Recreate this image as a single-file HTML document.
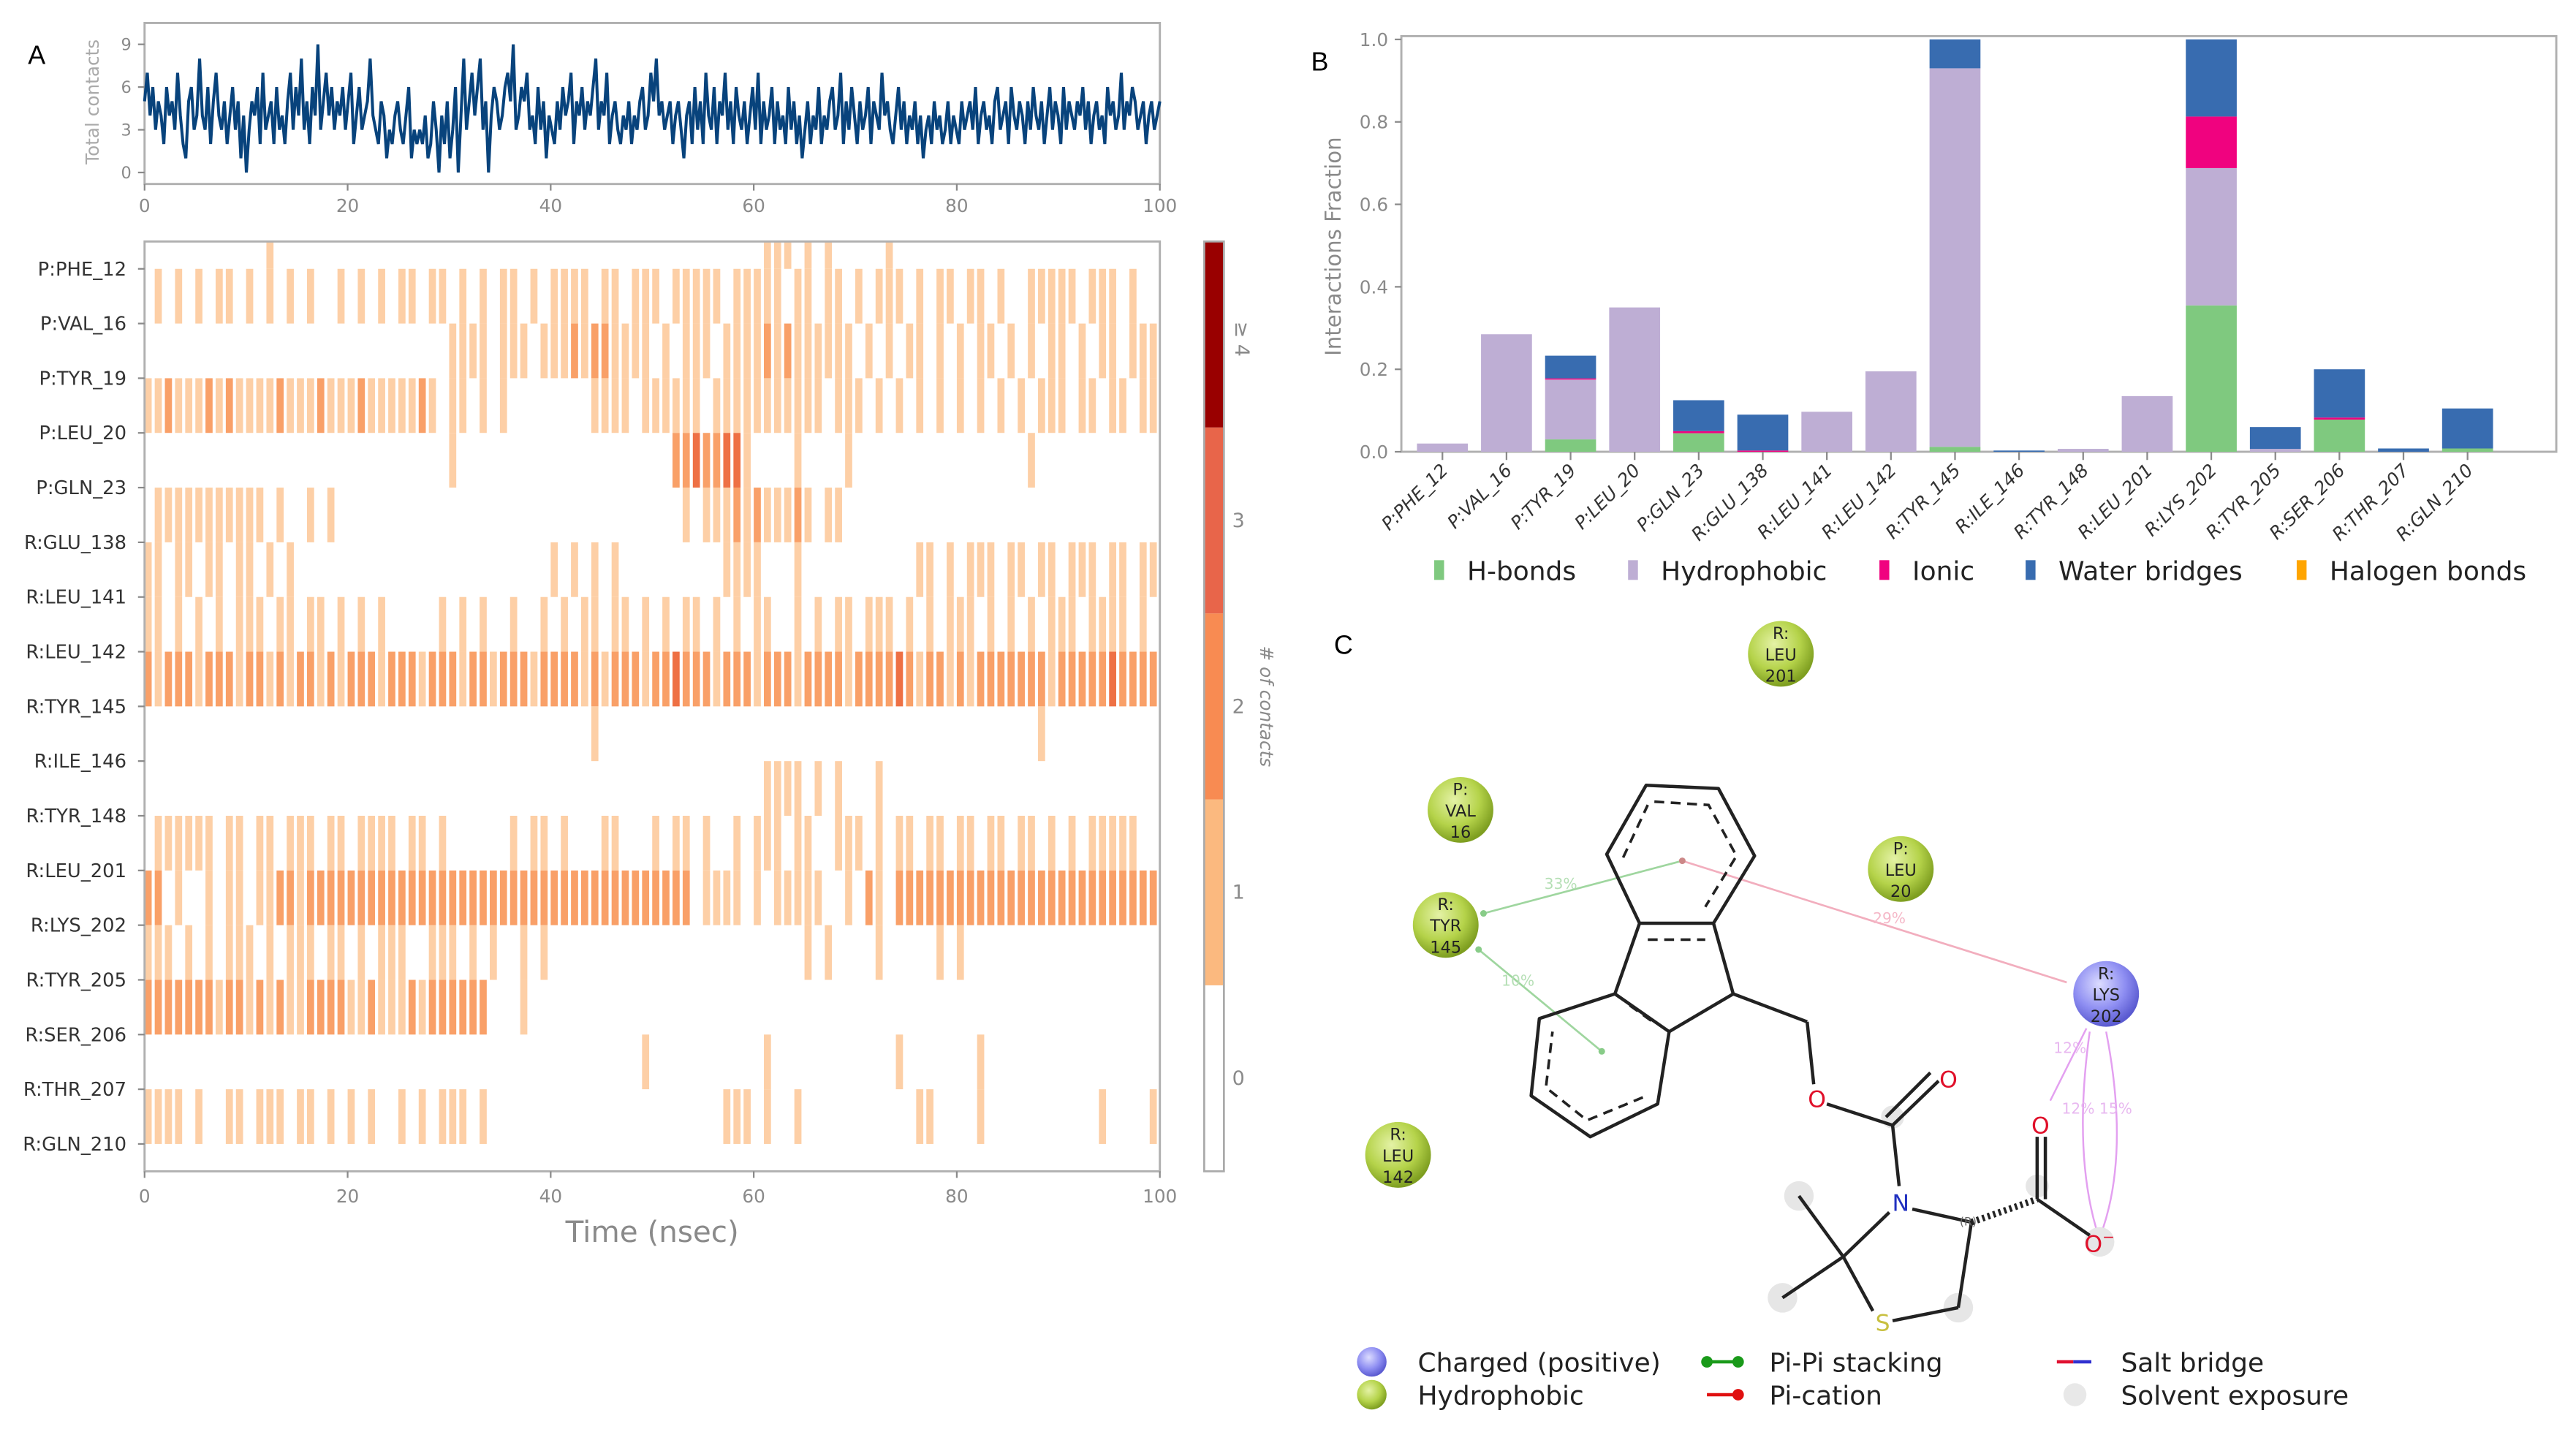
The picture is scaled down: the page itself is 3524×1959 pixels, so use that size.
<!DOCTYPE html>
<html><head><meta charset="utf-8">
<style>
html,body{margin:0;padding:0;background:#fff;}
svg{display:block;font-family:"DejaVu Sans","Liberation Sans",sans-serif;}
</style></head>
<body>
<svg id="fig" xmlns="http://www.w3.org/2000/svg" width="3524" height="1959" viewBox="0 0 1568 871.7" preserveAspectRatio="none">
<rect x="0" y="0" width="1568" height="872" fill="#fff"/>
<text x="17" y="39" font-size="16" font-family="Liberation Sans">A</text>
<text x="798" y="43" font-size="16" font-family="Liberation Sans">B</text>
<text x="812" y="398" font-size="16" font-family="Liberation Sans">C</text>
<g id="gTop"></g>
<g id="gHeat"></g>
<g id="gBar"></g>
<g id="gMol">
  <line x1="903" y1="556" x2="1024" y2="524" stroke="#9fd69f" stroke-width="1.2"/>
  <circle cx="903" cy="556" r="2" fill="#8c8"/>
  <text x="940" y="541" font-size="9" fill="#b5dfb5">33%</text>
  <line x1="900" y1="578" x2="975" y2="640" stroke="#9fd69f" stroke-width="1.2"/>
  <circle cx="900" cy="578" r="2" fill="#8c8"/>
  <circle cx="975" cy="640" r="2" fill="#8c8"/>
  <text x="914" y="600" font-size="9" fill="#b5dfb5">10%</text>
  <line x1="1024" y1="524" x2="1258" y2="598" stroke="#f2aebe" stroke-width="1.2"/>
  <circle cx="1024" cy="524" r="2" fill="#c88"/>
  <text x="1140" y="562" font-size="9" fill="#f5b8c8">29%</text>
  <path d="M1270,626 Q1258,650 1248,670" fill="none" stroke="#e3a0f0" stroke-width="1.1"/>
  <path d="M1272,628 Q1262,700 1276,748" fill="none" stroke="#e3a0f0" stroke-width="1.1"/>
  <path d="M1282,628 Q1296,700 1280,748" fill="none" stroke="#e3a0f0" stroke-width="1.1"/>
  <text x="1250" y="641" font-size="9" fill="#e8b8f0">12%</text>
  <text x="1255" y="678" font-size="9" fill="#e8b8f0">12% 15%</text>
  <g fill="#e6e6e6">
    <circle cx="1095" cy="728" r="9"/><circle cx="1085" cy="790" r="9"/><circle cx="1192" cy="796" r="9"/>
    <circle cx="1240" cy="722" r="7"/><circle cx="1152" cy="680" r="7"/><circle cx="1278" cy="756" r="9"/>
  </g>
  <g stroke="#222" stroke-width="2" fill="none" stroke-linejoin="round">
    <polygon points="1002,478 1046,480 1068,521 1043,562 998,562 978,520"/>
    <polygon points="983,605 1016,628 1009,672 968,692 932,667 937,620"/>
    <line x1="998" y1="562" x2="983" y2="605"/>
    <line x1="1043" y1="562" x2="1055" y2="605"/>
    <line x1="1055" y1="605" x2="1016" y2="628"/>
    <line x1="1055" y1="605" x2="1100" y2="622"/>
    <line x1="1100" y1="622" x2="1104" y2="660"/>
    <line x1="1112" y1="672" x2="1152" y2="685"/>
    <line x1="1152" y1="685" x2="1180" y2="658"/>
    <line x1="1148" y1="680" x2="1175" y2="653"/>
    <line x1="1152" y1="685" x2="1156" y2="722"/>
    <line x1="1164" y1="736" x2="1200" y2="744"/>
    <line x1="1200" y1="744" x2="1192" y2="796"/>
    <line x1="1192" y1="796" x2="1152" y2="804"/>
    <line x1="1140" y1="798" x2="1122" y2="765"/>
    <line x1="1122" y1="765" x2="1150" y2="738"/>
    <line x1="1122" y1="765" x2="1095" y2="728"/>
    <line x1="1122" y1="765" x2="1085" y2="790"/>
    <line x1="1240" y1="730" x2="1240" y2="692"/>
    <line x1="1245" y1="730" x2="1245" y2="692"/>
    <line x1="1240" y1="730" x2="1272" y2="752"/>
  </g>
  <g stroke="#222" stroke-width="1.6" stroke-dasharray="6,4" fill="none">
    <polyline points="1007,488 1040,490 1057,521 1038,552"/>
    <line x1="988" y1="522" x2="1003" y2="490"/>
    <line x1="1003" y1="572" x2="1038" y2="572"/>
    <line x1="992" y1="612" x2="1006" y2="622"/>
    <polyline points="1000,668 966,682 941,662 945,628"/>
  </g>
  <line x1="1200" y1="744" x2="1240" y2="730" stroke="#222" stroke-width="4" stroke-dasharray="1.5,2"/>
  <text x="1106" y="674" font-size="14" fill="#e0102a" text-anchor="middle">O</text>
  <text x="1186" y="662" font-size="14" fill="#e0102a" text-anchor="middle">O</text>
  <text x="1157" y="737" font-size="14" fill="#2030c0" text-anchor="middle">N</text>
  <text x="1146" y="810" font-size="14" fill="#c8c040" text-anchor="middle">S</text>
  <text x="1242" y="690" font-size="14" fill="#e0102a" text-anchor="middle">O</text>
  <text x="1278" y="762" font-size="14" fill="#e0102a" text-anchor="middle">O<tspan font-size="9" dy="-6">−</tspan></text>
  <text x="1198" y="746" font-size="7" fill="#666" text-anchor="middle">(R)</text>
  <defs>
    <radialGradient id="gg" cx="40%" cy="35%" r="65%"><stop offset="0" stop-color="#e4f2a6"/><stop offset="0.6" stop-color="#b5d34a"/><stop offset="1" stop-color="#7e9e20"/></radialGradient>
    <radialGradient id="bg" cx="40%" cy="35%" r="65%"><stop offset="0" stop-color="#dcdcff"/><stop offset="0.6" stop-color="#8e8ef2"/><stop offset="1" stop-color="#5a5ad0"/></radialGradient>
  </defs>
  <g font-size="10" text-anchor="middle" fill="#222">
    <g><circle cx="1084" cy="398" r="20" fill="url(#gg)"/><text x="1084" y="389">R:</text><text x="1084" y="402">LEU</text><text x="1084" y="415">201</text></g>
    <g><circle cx="889" cy="493" r="20" fill="url(#gg)"/><text x="889" y="484">P:</text><text x="889" y="497">VAL</text><text x="889" y="510">16</text></g>
    <g><circle cx="880" cy="563" r="20" fill="url(#gg)"/><text x="880" y="554">R:</text><text x="880" y="567">TYR</text><text x="880" y="580">145</text></g>
    <g><circle cx="1157" cy="529" r="20" fill="url(#gg)"/><text x="1157" y="520">P:</text><text x="1157" y="533">LEU</text><text x="1157" y="546">20</text></g>
    <g><circle cx="851" cy="703" r="20" fill="url(#gg)"/><text x="851" y="694">R:</text><text x="851" y="707">LEU</text><text x="851" y="720">142</text></g>
    <g><circle cx="1282" cy="605" r="20" fill="url(#bg)"/><text x="1282" y="596">R:</text><text x="1282" y="609">LYS</text><text x="1282" y="622">202</text></g>
  </g>
  <g font-size="16" fill="#222">
    <g><circle cx="835" cy="829" r="9" fill="url(#bg)"/><text x="863" y="835">Charged (positive)</text></g>
    <g><circle cx="835" cy="849" r="9" fill="url(#gg)"/><text x="863" y="855">Hydrophobic</text></g>
    <g><line x1="1039" y1="829" x2="1058" y2="829" stroke="#1a9a1a" stroke-width="2"/><circle cx="1039" cy="829" r="3.5" fill="#1a9a1a"/><circle cx="1058" cy="829" r="3.5" fill="#1a9a1a"/><text x="1077" y="835">Pi-Pi stacking</text></g>
    <g><line x1="1039" y1="849" x2="1058" y2="849" stroke="#e01010" stroke-width="2"/><circle cx="1058" cy="849" r="3.5" fill="#e01010"/><text x="1077" y="855">Pi-cation</text></g>
    <g><line x1="1252" y1="829" x2="1262" y2="829" stroke="#e01030" stroke-width="2"/><line x1="1262" y1="829" x2="1273" y2="829" stroke="#3030d0" stroke-width="2"/><text x="1291" y="835">Salt bridge</text></g>
    <g><circle cx="1263" cy="849" r="7" fill="#e8e8e8"/><text x="1291" y="855">Solvent exposure</text></g>
  </g>
</g>
</svg>
<script>
// ---------- data: total contacts ----------
const contactTimes = 100;
const totalContacts = [5,7,4,6,3,5,4,2,6,4,5,3,7,4,2,1,5,6,3,4,8,4,3,6,2,5,7,4,3,5,2,4,6,3,5,1,4,0,3,5,4,6,2,7,3,4,5,2,6,3,4,2,5,7,3,6,4,8,3,5,2,6,4,9,3,5,7,4,6,3,5,4,6,3,5,7,2,4,6,3,4,5,8,4,3,2,5,4,1,3,2,4,5,3,2,4,6,1,3,2,3,2,4,1,2,5,3,0,4,2,5,1,3,6,0,4,8,3,5,7,4,6,8,3,5,0,4,6,5,3,4,6,7,5,9,3,4,6,5,7,3,4,2,6,3,5,1,4,3,2,5,3,6,4,5,7,2,5,4,6,3,5,4,6,8,3,5,4,7,2,4,5,3,2,4,3,5,2,4,3,5,6,3,4,7,5,8,4,5,3,4,5,2,4,5,3,1,4,5,2,
6,3,5,2,7,4,3,6,2,5,4,7,3,5,2,6,4,3,5,2,4,6,3,7,2,5,3,4,6,2,5,3,4,2,6,3,5,2,4,1,3,5,2,4,3,6,2,4,3,5,6,3,4,7,2,5,3,6,4,2,5,3,4,6,2,5,4,3,7,4,5,3,2,4,6,3,5,2,4,3,5,2,4,1,3,4,2,5,3,4,2,3,5,2,4,3,2,5,3,4,5,3,6,2,4,5,3,4,2,5,6,3,4,5,2,6,4,3,5,4,2,5,3,6,4,3,5,2,4,6,3,5,4,2,6,3,5,4,3,5,4,6,3,5,2,4,5,3,4,2,6,4,5,3,4,7,3,5,4,6,5,3,4,5,2,4,5,3,4,5];
const topYTicks = [0,3,6,9];
const timeTicks = [0,20,40,60,80,100];
// ---------- data: heatmap ----------
const residues = ["P:PHE_12","P:VAL_16","P:TYR_19","P:LEU_20","P:GLN_23","R:GLU_138","R:LEU_141","R:LEU_142","R:TYR_145","R:ILE_146","R:TYR_148","R:LEU_201","R:LYS_202","R:TYR_205","R:SER_206","R:THR_207","R:GLN_210"];
const contactRows = [
"0000000000001000000000000000000000000000000000000000000000000111010100000100000000000000000000000000",
"0101010110101010100101010110110101011010111101101110111110111110110110101110101101101001111101110100",
"0000000000000000000000000000001111011101112122111101011101111212111111010101101010110101011010110111",
"1121112121111211121112111112101101010000000011110111111011111111111011101010101010101010111011011011",
"0000000000000000000000000000001000000000000000000000223223310000100001000000000000000001000000000000",
"0111111111110100101000000000000000000000000000000000010111212111210110000000000000000000000000000000",
"1101101101101010000000000000000000000000101010100000000001111000100000000000110101110110110111011011",
"1101010101110110110101010000010101001001010110110101011010101100101011011101010111010101011101111010",
"2122212221221212212122212221222122122212222121222122322212221222122221222232122121222222212222232222",
"0000000000000000000000000000000000000000000010000000000000000000000000000000000000000000100000000000",
"0000000000000000000000000000000000000000000000000000000000000111101010001000000000000000000000000000",
"0111111011011011101101111011010000001011010001100010110100101110110011101011011011011011010101111100",
"2201001011011221222222222222222222222222222222222222220111101011111001021022222222222222222222222222",
"1110101011101011101101011100111010100101000000000000000000000000010100001000001010000000000000000000",
"2222222122121211222211211121222222000100000000000000000000000000000000000000000000000000000000000000",
"0000000000000000000000000000000000000000000000000100000000000100000000000010000000100000000000000000",
"1111010011011101101010100101011101000000000000000000000001110100100000000000110000100000000000100001"
];
const cbarLabels = ["0","1","2","3","≥ 4"];
// ---------- data: bar chart ----------
const barResidues = ["P:PHE_12","P:VAL_16","P:TYR_19","P:LEU_20","P:GLN_23","R:GLU_138","R:LEU_141","R:LEU_142","R:TYR_145","R:ILE_146","R:TYR_148","R:LEU_201","R:LYS_202","R:TYR_205","R:SER_206","R:THR_207","R:GLN_210"];
const hbonds      = [0,0,0.03,0,0.045,0,0,0,0.012,0,0,0,0.355,0,0.078,0,0.008];
const hydrophobic = [0.02,0.285,0.145,0.35,0,0,0.097,0.195,0.918,0,0.007,0.135,0.333,0.007,0,0,0];
const ionic       = [0,0,0.003,0,0.005,0.003,0,0,0,0,0,0,0.125,0,0.005,0,0];
const waterBridges= [0,0,0.055,0,0.075,0.087,0,0,0.07,0.003,0,0,0.187,0.053,0.117,0.008,0.097];
const halogen     = [0,0,0,0,0,0,0,0,0,0,0,0,0,0,0,0,0];
const barYTicks = [0,0.2,0.4,0.6,0.8,1.0];

const NS="http://www.w3.org/2000/svg";
function mk(tag, attrs, parent){const e=document.createElementNS(NS,tag);for(const k in attrs)e.setAttribute(k,attrs[k]);if(parent)parent.appendChild(e);return e;}
const GRAY="#8a8a8a";

// ---------- top chart ----------
const gTop=document.getElementById('gTop');
const xT=t=>88+t*(618/100);
const yC=v=>105-v*(78/9);
mk('rect',{x:88,y:14,width:618,height:98,fill:'none',stroke:'#b0b0b0','stroke-width':1.3},gTop);
let pts=totalContacts.map((v,i)=>xT(i*contactTimes/(totalContacts.length-1)).toFixed(2)+','+yC(v).toFixed(2)).join(' ');
const ln=mk('polyline',{points:pts,fill:'none',stroke:'#08437c','stroke-width':1.8,'stroke-linejoin':'miter'},gTop);


topYTicks.forEach(v=>{
  mk('line',{x1:84,x2:88,y1:yC(v),y2:yC(v),stroke:GRAY},gTop);
  const t=mk('text',{x:80,y:yC(v)+3.5,'font-size':10,fill:GRAY,'text-anchor':'end'},gTop);t.textContent=v;
  
  
});
timeTicks.forEach(v=>{
  mk('line',{x1:xT(v),x2:xT(v),y1:112,y2:116,stroke:GRAY},gTop);
  const t=mk('text',{x:xT(v),y:129,'font-size':11,fill:GRAY,'text-anchor':'middle'},gTop);t.textContent=v;
  
  
});
const tt=mk('text',{transform:'translate(60,62) rotate(-90)','font-size':11,fill:'#aaa','text-anchor':'middle'},gTop);tt.textContent='Total contacts';



// ---------- heatmap ----------
const gH=document.getElementById('gHeat');
const H0=147,H1=713,rowH=(H1-H0)/17;
const yLab=i=>H0+rowH*(i+0.5);
const colors=['none','#fdcfa6','#f9a068','#ee7044','#a01010'];
const nb=contactRows[0].length;
const cw=618/nb;
const clip=mk('clipPath',{id:'hclip'},gH);mk('rect',{x:88,y:H0,width:618,height:H1-H0},clip);
const cellsG=mk('g',{'clip-path':'url(#hclip)'},gH);
contactRows.forEach((row,i)=>{
  for(let b=0;b<row.length;b++){
    const v=+row[b]; if(!v) continue;
    const r=mk('rect',{x:xT(b*100/nb),y:yLab(i)-rowH,width:cw*0.7,height:rowH,fill:colors[v]},cellsG);
    
    
  }
});
mk('rect',{x:88,y:H0,width:618,height:H1-H0,fill:'none',stroke:'#b0b0b0','stroke-width':1.3},gH);
residues.forEach((r,i)=>{
  mk('line',{x1:84,x2:88,y1:yLab(i),y2:yLab(i),stroke:GRAY},gH);
  const t=mk('text',{x:77,y:yLab(i)+4,'font-size':11.5,fill:'#333','text-anchor':'end'},gH);t.textContent=r;
  
  
});
timeTicks.forEach(v=>{
  mk('line',{x1:xT(v),x2:xT(v),y1:713,y2:717,stroke:GRAY},gH);
  const t=mk('text',{x:xT(v),y:732,'font-size':11,fill:GRAY,'text-anchor':'middle'},gH);t.textContent=v;
  
  
});
const xt=mk('text',{x:397,y:756,'font-size':18,fill:GRAY,'text-anchor':'middle'},gH);xt.textContent='Time (nsec)';


const cbColors=['#ffffff','#fbb97f','#f88b52','#e8654a','#990000'];
const segH=(713-147)/5;
cbColors.forEach((c,k)=>{
  const r=mk('rect',{x:733,y:713-segH*(k+1),width:12,height:segH,fill:c},gH);
  
  
  const t=mk('text',{x:750,y:713-segH*(k+0.5)+4,'font-size':12,fill:GRAY},gH);t.textContent=cbarLabels[k];
  if(k===4){t.setAttribute('transform',`rotate(90 ${756} ${713-segH*(k+0.5)})`);t.setAttribute('x',748);t.setAttribute('y',713-segH*(k+0.5)+4);}
  
  
});
mk('rect',{x:733,y:147,width:12,height:566,fill:'none',stroke:'#aaa','stroke-width':1.2},gH);
const ct=mk('text',{transform:'translate(767,430) rotate(90)','font-size':11,fill:GRAY,'text-anchor':'middle','font-style':'italic'},gH);ct.textContent='# of contacts';



// ---------- bar chart ----------
const gB=document.getElementById('gBar');
const yB=v=>275-v*251;
const xB=i=>878+i*39;
const BW=31;
mk('rect',{x:853,y:22,width:703,height:253,fill:'none',stroke:'#b0b0b0','stroke-width':1.3},gB);
const series=[[hbonds,'#7fc97f','hbonds'],[hydrophobic,'#beaed4','hydrophobic'],[ionic,'#f0027f','ionic'],[waterBridges,'#386cb0','water-bridges'],[halogen,'#ffa500','halogen']];
barResidues.forEach((r,i)=>{
  let base=0;
  series.forEach(([arr,col,nm])=>{
    const v=arr[i]; if(v<=0){return;}
    const top=Math.min(base+v,1.0);
    const rc=mk('rect',{x:xB(i)-BW/2,y:yB(top),width:BW,height:Math.max(yB(base)-yB(top),0.6),fill:col},gB);
    
    
    base+=v;
  });
  mk('line',{x1:xB(i),x2:xB(i),y1:275,y2:280,stroke:GRAY},gB);
  const t=mk('text',{transform:`translate(${xB(i)+4},${287}) rotate(-45)`,'font-size':11,fill:'#333','text-anchor':'end','font-style':'italic'},gB);t.textContent=r;
  
  
});
barYTicks.forEach(v=>{
  mk('line',{x1:849,x2:853,y1:yB(v),y2:yB(v),stroke:GRAY},gB);
  const t=mk('text',{x:845,y:yB(v)+4,'font-size':11,fill:GRAY,'text-anchor':'end'},gB);t.textContent=v.toFixed(1);
  
  
});
const yt=mk('text',{transform:'translate(816,150) rotate(-90)','font-size':13,fill:GRAY,'text-anchor':'middle'},gB);yt.textContent='Interactions Fraction';


const legendItems=[['H-bonds','#7fc97f',873],['Hydrophobic','#beaed4',991],['Ionic','#f0027f',1144],['Water bridges','#386cb0',1233],['Halogen bonds','#ffa500',1398]];
legendItems.forEach(([lab,col,x])=>{
  const g=mk('g',{},gB);
  
  
  mk('rect',{x:x,y:341,width:6,height:12,fill:col},g);
  const t=mk('text',{x:x+20,y:353,'font-size':16,fill:'#222'},g);t.textContent=lab;
});
</script>
</body></html>
